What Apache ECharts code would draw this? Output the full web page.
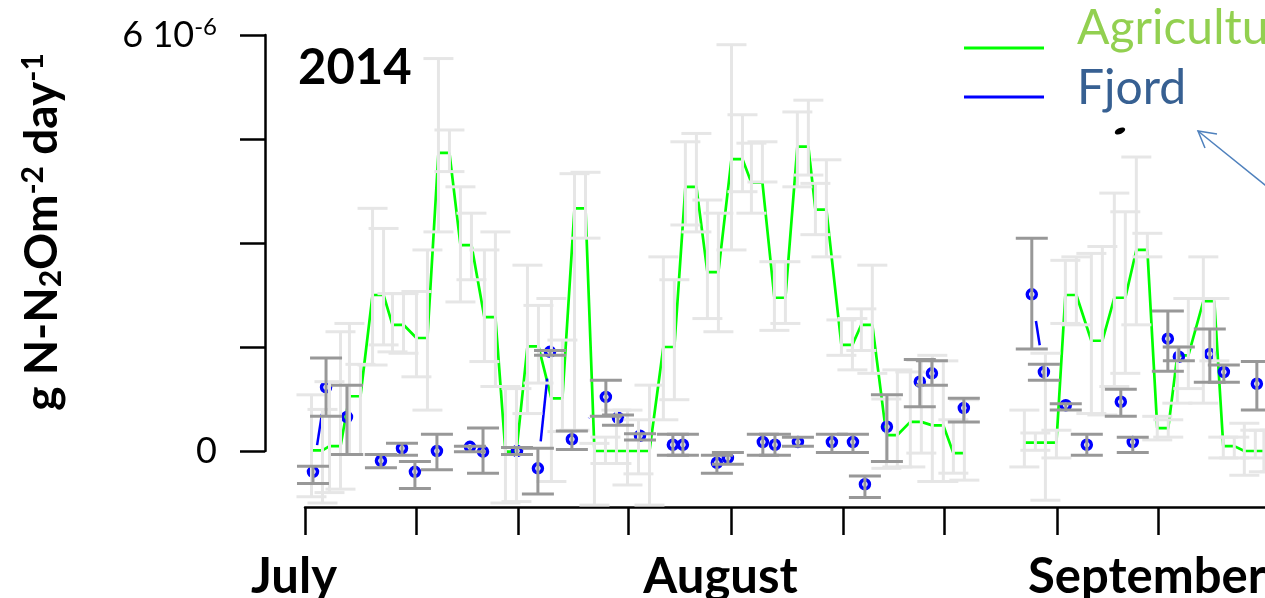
<!DOCTYPE html>
<html><head><meta charset="utf-8">
<script src="https://cdn.jsdelivr.net/npm/echarts@6/dist/echarts.min.js"></script>
<style>html,body{margin:0;padding:0;background:#fff}#c{width:1265px;height:598px}</style>
</head><body><div id="c"></div>
<script>
// ---------- data (x in days since 1 July 2014, y in units of 1e-6) ----------
const monthLabels = ['July', 'August', 'September'];
const monthStartDays = [0, 31, 62];
const xTickDays = [0, 8.07, 15.5, 23.5, 31, 39.1, 46.5, 54.7, 62];
const yTickValues = [0, 1.5, 3, 4.5, 6];
const yLabelValues = [0, 6];
const yearLabel = '2014';
const seriesNames = ['Agriculture', 'Fjord'];

// Agriculture: each measurement is drawn as a short pair of points (start/end) with its own error bars
const agriDays = [0.87, 2.18, 3.63, 5.31, 6.76, 8.50, 10.10, 11.70, 13.44, 14.97,
  16.57, 18.31, 19.99, 21.44, 23.04, 24.64, 26.45, 28.05, 29.65, 31.40,
  32.85, 34.52, 36.19, 37.50, 39.39, 40.84, 42.66, 44.40, 46.00, 47.53,
  52.69, 54.22, 55.67, 57.56, 59.23, 60.83, 62.35, 63.81, 65.70, 67.15, 68.68, 70.1];
const agriValues = [0.01, 0.07, 0.79, 2.25, 1.82, 1.63, 4.30, 2.97, 1.93, -0.01,
  1.51, 0.76, 3.50, 0.00, 0.00, 0.00, 1.50, 3.81, 2.58, 4.21,
  3.87, 2.21, 4.39, 3.48, 1.53, 1.82, 0.23, 0.42, 0.37, -0.03,
  0.12, 0.12, 2.25, 1.59, 2.21, 2.90, 0.33, 1.38, 2.16, 0.07, 0.00, 0.00];
const agriLowA = [-0.66, -0.60, -0.05, 1.24, 1.43, 1.07, 3.16, 2.15, 1.29, -0.75,
  0.54, -0.44, 0.30, -0.78, -0.18, -0.33, 0.45, 3.26, 1.91, 2.90,
  3.43, 1.74, 3.81, 3.12, 1.38, 1.45, -0.25, -0.23, -0.44, -0.32,
  -0.23, -0.71, 1.84, 0.54, 0.93, 1.82, 0.16, 0.69, 0.69, -0.10, -0.35, -0.30];
const agriHighA = [0.81, 1.00, 1.84, 3.50, 2.27, 2.30, 5.66, 3.81, 2.90, 0.93,
  2.68, 2.20, 4.00, 0.11, 0.59, 0.45, 2.80, 4.46, 3.62, 5.86,
  4.44, 2.73, 4.89, 3.86, 1.89, 2.05, 0.75, 1.14, 1.38, 0.45,
  0.59, 1.41, 2.75, 2.85, 3.72, 4.24, 0.50, 1.50, 2.80, 0.20, 0.40, 0.30];
const agriLowB = [-0.75, -0.55, -0.05, 1.53, 1.41, 0.59, 4.03, 2.47, 0.93, -0.73,
  0.98, 0.28, 3.07, -0.18, -0.49, -0.78, 0.74, 3.16, 1.72, 3.74,
  3.88, 1.84, 3.98, 2.80, 1.17, 1.12, -0.23, -0.03, -0.44, -0.42,
  0.01, -0.10, 1.82, 0.52, 1.12, 2.80, 0.20, 0.90, 1.30, -0.10, -0.10, -0.30];
const agriHighB = [0.60, 1.72, 1.25, 3.21, 2.27, 2.90, 4.63, 3.43, 3.16, 0.90,
  2.10, 1.60, 4.02, 0.20, 0.59, 0.95, 2.47, 4.58, 3.43, 4.85,
  4.46, 2.73, 5.06, 4.20, 1.91, 2.68, 1.17, 1.31, 1.30, 0.74,
  0.26, 0.30, 2.80, 2.95, 3.45, 3.14, 0.45, 2.20, 2.20, 0.20, 0.30, 0.30];
const agriBreakAfter = [29];

const fjordDays = [0.58, 1.53, 3.05, 5.52, 7.05, 7.99, 9.59, 11.99, 12.94, 15.41,
  16.93, 17.81, 19.40, 21.87, 22.75, 24.35, 26.74, 27.47, 29.94, 30.74,
  33.28, 34.16, 35.83, 38.30, 39.83, 40.70, 42.30, 44.69, 45.57, 47.89,
  52.83, 53.71, 55.30, 56.83, 59.30, 60.17, 62.72, 63.52, 65.77, 66.79, 69.19];
const fjordValues = [-0.30, 0.92, 0.49, -0.14, 0.04, -0.30, 0.00, 0.06, -0.01, 0.00,
  -0.25, 1.43, 0.17, 0.78, 0.48, 0.22, 0.09, 0.09, -0.17, -0.10,
  0.13, 0.09, 0.13, 0.13, 0.13, -0.48, 0.35, 1.00, 1.12, 0.62,
  2.26, 1.14, 0.66, 0.09, 0.71, 0.13, 1.62, 1.36, 1.40, 1.14, 0.97];
const fjordLow = [-0.47, 0.50, -0.05, -0.24, -0.06, -0.54, -0.27, -0.01, -0.32, -0.05,
  -0.62, 1.38, 0.02, 0.50, 0.37, 0.16, -0.06, -0.06, -0.32, -0.19,
  -0.06, -0.06, 0.07, -0.02, -0.02, -0.67, -0.15, 0.64, 0.95, 0.42,
  1.47, 1.02, 0.59, -0.06, 0.50, -0.02, 1.15, 1.30, 0.99, 0.99, 0.59];
const fjordHigh = [-0.22, 1.34, 0.95, -0.05, 0.11, -0.15, 0.24, 0.07, 0.33, 0.05,
  0.04, 1.45, 0.29, 1.02, 0.52, 0.25, 0.24, 0.24, -0.06, -0.02,
  0.24, 0.24, 0.20, 0.24, 0.24, -0.36, 0.81, 1.32, 1.30, 0.76,
  3.07, 1.25, 0.68, 0.24, 0.89, 0.20, 2.02, 1.50, 1.76, 1.24, 1.29];
const fjordBreakAfter = [2, 11, 25, 26, 29, 33, 35];

// ---------- build ----------
const PAIR = 0.4;
const agriLine = [], agriErr = [];
agriDays.forEach((d, i) => {
  agriLine.push([d - PAIR, agriValues[i]], [d + PAIR, agriValues[i]]);
  agriErr.push([d - PAIR, agriLowA[i], agriHighA[i]], [d + PAIR, agriLowB[i], agriHighB[i]]);
  if (agriBreakAfter.includes(i)) agriLine.push([d + 1, '-']);
});
const fjordPts = fjordDays.map((d, i) => [d, fjordValues[i]]);
const fjordErr = fjordDays.map((d, i) => [d, fjordLow[i], fjordHigh[i]]);
const fjordSegs = [];
for (let i = 0; i < fjordDays.length - 1; i++) {
  if (!fjordBreakAfter.includes(i)) fjordSegs.push([fjordDays[i], fjordValues[i], fjordDays[i + 1], fjordValues[i + 1]]);
}

function errRenderer(color, half, lw) {
  return function (params, api) {
    const x = api.value(0);
    const lo = api.coord([x, api.value(1)]);
    const hi = api.coord([x, api.value(2)]);
    const st = { stroke: color, lineWidth: lw };
    return { type: 'group', children: [
      { type: 'line', shape: { x1: lo[0], y1: lo[1], x2: hi[0], y2: hi[1] }, style: st },
      { type: 'line', shape: { x1: lo[0] - half, y1: lo[1], x2: lo[0] + half, y2: lo[1] }, style: st },
      { type: 'line', shape: { x1: hi[0] - half, y1: hi[1], x2: hi[0] + half, y2: hi[1] }, style: st }
    ] };
  };
}
function segRenderer(params, api) {
  const p1 = api.coord([api.value(0), api.value(1)]);
  const p2 = api.coord([api.value(2), api.value(3)]);
  const dx = p2[0] - p1[0], dy = p2[1] - p1[1];
  const L = Math.hypot(dx, dy), GAP = 27;
  if (L <= 2 * GAP) return { type: 'group', children: [] };
  const ux = dx / L, uy = dy / L;
  return { type: 'line', shape: { x1: p1[0] + ux * GAP, y1: p1[1] + uy * GAP, x2: p2[0] - ux * GAP, y2: p2[1] - uy * GAP },
    style: { stroke: '#0000ff', lineWidth: 2.5 } };
}

const FONT = 'Lato, "Open Sans", sans-serif';
const chart = echarts.init(document.getElementById('c'), null, { renderer: 'canvas' });
chart.setOption({
  animation: false,
  backgroundColor: '#ffffff',
  grid: { left: 305, right: -3, top: 35, bottom: 147, containLabel: false, outerBoundsMode: 'none' },
  xAxis: {
    type: 'value', min: 0, max: 70, offset: 56,
    axisLine: { show: true, onZero: false, lineStyle: { color: '#000', width: 2.5 } },
    axisTick: { show: true, customValues: xTickDays, length: 28, lineStyle: { color: '#000', width: 2.5 } },
    axisLabel: {
      customValues: monthStartDays, margin: 46, color: '#000',
      fontFamily: FONT, fontWeight: 'bold', fontSize: 49, padding: [0, 22, 0, 0],
      formatter: v => monthLabels[monthStartDays.indexOf(v)] || ''
    },
    splitLine: { show: false }
  },
  yAxis: {
    type: 'value', min: 0, max: 6, offset: 40,
    axisLine: { show: true, onZero: false, lineStyle: { color: '#000', width: 2.5 } },
    axisTick: { show: true, customValues: yTickValues, length: 25, lineStyle: { color: '#000', width: 2.5 } },
    axisLabel: {
      customValues: yLabelValues, margin: 48, color: '#000',
      formatter: v => v === 6 ? '{n|6 10}{s|-6}' : '{n|0}',
      rich: {
        n: { fontFamily: FONT, fontSize: 36, color: '#000' },
        s: { fontFamily: FONT, fontSize: 24, color: '#000', verticalAlign: 'top', padding: [0, 0, 16, 0] }
      }
    },
    splitLine: { show: false }
  },
  series: [
    { name: seriesNames[0], type: 'line', data: agriLine, symbol: 'none', clip: false, z: 2,
      lineStyle: { color: '#00ff00', width: 2.7 }, connectNulls: false },
    { name: seriesNames[1] + ' line', type: 'custom', data: fjordSegs, renderItem: segRenderer, clip: false, z: 3,
      encode: { x: [0, 2], y: [1, 3] } },
    { name: seriesNames[1], type: 'scatter', data: fjordPts, symbol: 'circle', symbolSize: 9, clip: false, z: 4,
      itemStyle: { color: 'rgba(0,0,0,0)', borderColor: '#0000ff', borderWidth: 3.5, opacity: 1 } },
    { name: seriesNames[0] + ' error', type: 'custom', data: agriErr, renderItem: errRenderer('#e6e6e6', 15, 3),
      clip: false, z: 5, encode: { x: 0, y: [1, 2] } },
    { name: seriesNames[1] + ' error', type: 'custom', data: fjordErr, renderItem: errRenderer('#989898', 16, 3),
      clip: false, z: 6, encode: { x: 0, y: [1, 2] } }
  ],
  graphic: [
    { type: 'text', x: 298, y: 68, z: 10, style: { text: yearLabel, fontFamily: FONT, fontWeight: 'bold', fontSize: 49,
      fill: '#000', align: 'left', verticalAlign: 'middle' } },
    { type: 'text', x: 42, y: 232, rotation: Math.PI / 2, z: 10, style: {
      text: '{m|g N-N}{b|2}{m|Om}{t|-2}{m| day}{t|-1}', align: 'center', verticalAlign: 'middle',
      rich: {
        m: { fontFamily: FONT, fontWeight: 'bold', fontSize: 46, fill: '#000' },
        b: { fontFamily: FONT, fontWeight: 'bold', fontSize: 30, fill: '#000', verticalAlign: 'bottom', padding: [14, 0, 0, 0] },
        t: { fontFamily: FONT, fontWeight: 'bold', fontSize: 30, fill: '#000', verticalAlign: 'top', padding: [0, 0, 18, 0] }
      } } },
    { type: 'line', z: 10, shape: { x1: 964, y1: 48, x2: 1044, y2: 48 }, style: { stroke: '#00ff00', lineWidth: 3 } },
    { type: 'line', z: 10, shape: { x1: 964, y1: 97, x2: 1044, y2: 97 }, style: { stroke: '#0000ff', lineWidth: 3 } },
    { type: 'text', x: 1077, y: 29, z: 10, style: { text: seriesNames[0], fontFamily: FONT, fontSize: 48, fill: '#92d050',
      align: 'left', verticalAlign: 'middle' } },
    { type: 'text', x: 1077, y: 89, z: 10, style: { text: seriesNames[1], fontFamily: FONT, fontSize: 48, fill: '#376092',
      align: 'left', verticalAlign: 'middle' } },
    { type: 'ellipse', z: 10, shape: { cx: 1120, cy: 131, rx: 5.5, ry: 3 }, rotation: 0.4, originX: 1120, originY: 131,
      style: { fill: '#000' } },
    { type: 'polyline', z: 10, shape: { points: [[1275, 193], [1198, 131]] }, style: { stroke: '#4f81bd', lineWidth: 1.5, fill: null } },
    { type: 'polyline', z: 10, shape: { points: [[1217, 134], [1198, 131], [1205, 148]] }, style: { stroke: '#4f81bd', lineWidth: 1.5, fill: null } }
  ]
});
</script></body></html>
